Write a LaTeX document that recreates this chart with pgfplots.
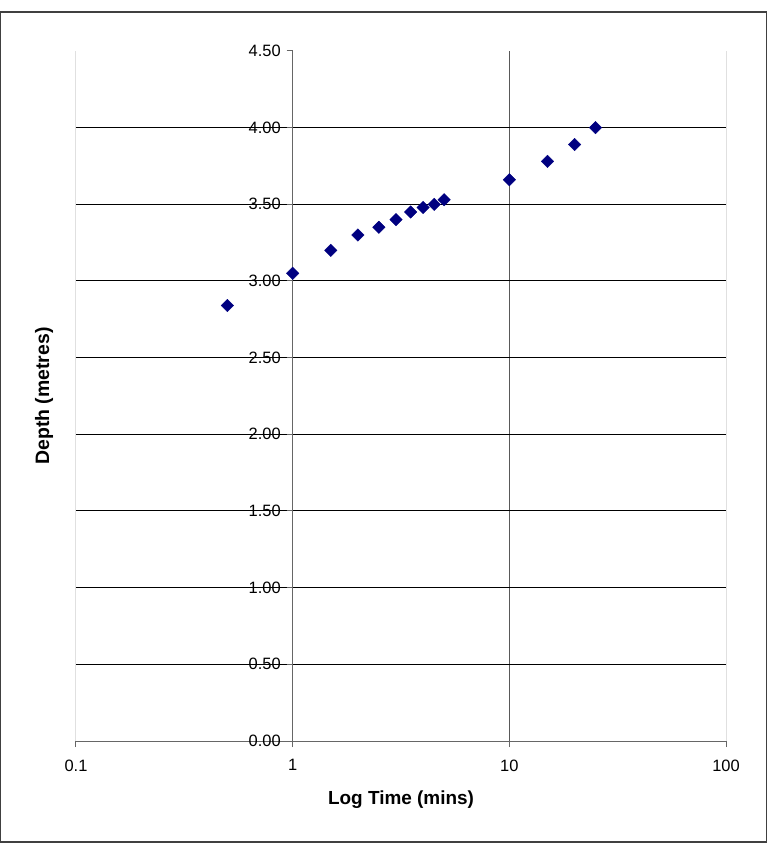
\documentclass[border=0pt]{standalone}
\usepackage{pgfplots}
\pgfplotsset{compat=1.18}
\usepackage{fontspec}
\setmainfont{Liberation Sans}
\definecolor{navyx}{RGB}{0,0,128}
\begin{document}
\begin{tikzpicture}
\useasboundingbox (-76bp,-104bp) rectangle (691bp,741bp);
\draw[black!75, line width=1.3bp] (-75.3bp,-101bp) rectangle (690.3bp,729bp);
\begin{axis}[
  at={(0,0)}, anchor=south west,
  scale only axis, width=650bp, height=690bp,
  xmode=log, xmin=0.1, xmax=100, ymin=0, ymax=4.5,
  axis x line=bottom, axis y line=middle,
  axis line style={black!60, line width=1bp, -},
  hide obscured x ticks=false, hide obscured y ticks=false,
  xtick={1,10}, xticklabels={1,10},
  extra x ticks={0.1,100}, extra x tick labels={0.1,100},
  extra x tick style={major x grid style={black!12, line width=1bp}},
  xminorticks=false,
  xmajorgrids,
  major x grid style={black!65, line width=1bp},
  ytick={0,0.5,...,4}, yticklabels={0.00,0.50,1.00,1.50,2.00,2.50,3.00,3.50,4.00},
  extra y ticks={4.5}, extra y tick labels={4.50},
  extra y tick style={ymajorgrids=false},
  ymajorgrids,
  major y grid style={black, line width=1bp},
  tick align=outside,
  major tick length=6bp,
  tick style={black!60, line width=1bp},
  yticklabel style={font=\fontsize{16.5}{18}\selectfont, xshift=-2.5bp},
  xticklabel style={font=\fontsize{16.5}{18}\selectfont, yshift=-9bp},
  every axis x label/.style={at={(axis description cs:0.5,0)}, anchor=center, yshift=-59bp, font=\bfseries\fontsize{19}{22}\selectfont},
  every axis y label/.style={at={(axis description cs:0,0.5)}, rotate=90, anchor=center, yshift=32bp, font=\bfseries\fontsize{19.5}{22}\selectfont},
  xlabel={Log Time (mins)},
  ylabel={Depth (metres)},
  clip=false,
]
\addplot[only marks, mark=square*, mark size=4.4bp, mark options={rotate=45, fill=navyx, draw=navyx}] coordinates {
  (0.5,2.84) (1,3.05) (1.5,3.20) (2,3.30) (2.5,3.35) (3,3.40) (3.5,3.45)
  (4,3.48) (4.5,3.50) (5,3.53) (10,3.66) (15,3.78) (20,3.89) (25,4.00)
};
\end{axis}
\end{tikzpicture}
\end{document}
